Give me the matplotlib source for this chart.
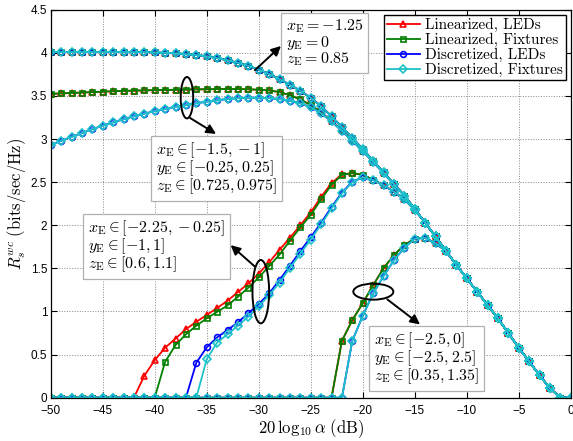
import numpy as np
import matplotlib
matplotlib.use("Agg")
import matplotlib.pyplot as plt
from matplotlib.patches import Ellipse

plt.rcParams["mathtext.fontset"] = "cm"
plt.rcParams["font.family"] = ["Liberation Sans", "DejaVu Sans"]

# attenuation grid (dB)
alpha_db = list(range(-50, 1))

# shared high-alpha tail, 20log10(alpha) = -12 .. 0
tail = [1.705, 1.54, 1.385, 1.23, 1.075, 0.92, 0.75, 0.58, 0.42, 0.26, 0.11, 0.0, 0.0]

# scenario 1: xE=-1.25, yE=0, zE=0.85  (-50 .. -13)
s1_all = [4.01] * 10 + [4.005, 4.0, 3.995, 3.985, 3.975, 3.96, 3.94, 3.915, 3.885, 3.85,
                        3.805, 3.755, 3.695, 3.63, 3.56, 3.48, 3.38, 3.265, 3.14, 3.015,
                        2.885, 2.75, 2.615, 2.48, 2.345, 2.19, 2.03, 1.87]

# scenario 2: xE in [-1.5,-1], yE in [-0.25,0.25], zE in [0.725,0.975]
s2_lin = [3.525, 3.53, 3.535, 3.54, 3.545, 3.55, 3.555, 3.56, 3.562, 3.565,
          3.568, 3.57, 3.572, 3.575, 3.577, 3.578, 3.58, 3.58, 3.58, 3.578,
          3.572, 3.565, 3.545, 3.51, 3.46, 3.395, 3.31, 3.21, 3.10, 2.985,
          2.865, 2.74, 2.61, 2.48, 2.345, 2.19, 2.03, 1.87]
s2_disc = [2.93, 2.98, 3.025, 3.07, 3.115, 3.155, 3.195, 3.23, 3.265, 3.295,
           3.325, 3.35, 3.375, 3.395, 3.415, 3.435, 3.45, 3.465, 3.475, 3.48,
           3.48, 3.475, 3.465, 3.445, 3.415, 3.37, 3.30, 3.205, 3.095, 2.98,
           2.86, 2.735, 2.605, 2.475, 2.345, 2.19, 2.03, 1.87]

# scenario 3: xE in [-2.25,-0.25], yE in [-1,1], zE in [0.6,1.1]
s3_lin_led = [0.0] * 9 + [0.255, 0.435, 0.58, 0.685, 0.795, 0.88, 0.96, 1.04, 1.125, 1.225,
                          1.325, 1.44, 1.57, 1.715, 1.855, 2.0, 2.15, 2.33, 2.49, 2.59,
                          2.605, 2.585, 2.53, 2.465, 2.39, 2.30, 2.18, 2.03, 1.87]
s3_lin_fix = [0.0] * 11 + [0.415, 0.61, 0.735, 0.835, 0.92, 0.995, 1.07, 1.17, 1.275, 1.395,
                           1.525, 1.66, 1.82, 1.975, 2.12, 2.30, 2.47, 2.585, 2.605, 2.585,
                           2.53, 2.465, 2.39, 2.30, 2.18, 2.03, 1.87]
s3_disc_led = [0.0] * 14 + [0.405, 0.585, 0.70, 0.785, 0.875, 0.98, 1.085, 1.21, 1.365, 1.53,
                            1.70, 1.86, 2.03, 2.21, 2.38, 2.505, 2.555, 2.525, 2.465, 2.39,
                            2.30, 2.18, 2.03, 1.87]
s3_disc_fix = [0.0] * 15 + [0.445, 0.64, 0.735, 0.835, 0.94, 1.06, 1.19, 1.335, 1.505, 1.67,
                            1.835, 2.01, 2.195, 2.37, 2.50, 2.555, 2.525, 2.465, 2.39, 2.30,
                            2.18, 2.03, 1.87]

# scenario 4: xE in [-2.5,0], yE in [-2.5,2.5], zE in [0.35,1.35]
s4_lin = [0.0] * 28 + [0.66, 0.90, 1.095, 1.305, 1.50, 1.655, 1.77, 1.845, 1.855, 1.79]
s4_disc = [0.0] * 29 + [0.66, 0.95, 1.21, 1.41, 1.595, 1.74, 1.845, 1.855, 1.79]

series = {
    "Linearized, LEDs": [s1_all, s2_lin, s3_lin_led, s4_lin],
    "Linearized, Fixtures": [s1_all, s2_lin, s3_lin_fix, s4_lin],
    "Discretized, LEDs": [s1_all, s2_disc, s3_disc_led, s4_disc],
    "Discretized, Fixtures": [s1_all, s2_disc, s3_disc_fix, s4_disc],
}
styles = {
    "Linearized, LEDs": dict(color="#ff0000", marker="^", ms=4.3),
    "Linearized, Fixtures": dict(color="#008000", marker="s", ms=3.6),
    "Discretized, LEDs": dict(color="#0000ff", marker="o", ms=4.2),
    "Discretized, Fixtures": dict(color="#1ec3c8", marker="D", ms=3.9),
}

fig = plt.figure(figsize=(5.73, 4.41), dpi=100)
ax = fig.add_axes([0.0885, 0.0982, 0.9075, 0.8796])

handles = []
for name, curves in series.items():
    st = styles[name]
    for k, head in enumerate(curves):
        y = np.array(head + tail)
        h, = ax.plot(alpha_db, y, color=st["color"], lw=1.3, marker=st["marker"],
                     ms=st["ms"], mfc="none", mec=st["color"], mew=1.2,
                     label=name if k == 0 else None)
        if k == 0:
            handles.append(h)

ax.set_xlim(-50, 0)
ax.set_ylim(0, 4.5)
ax.set_xticks(np.arange(-50, 1, 5))
ax.set_yticks(np.arange(0, 4.51, 0.5))
ax.set_yticklabels(["0", "0.5", "1", "1.5", "2", "2.5", "3", "3.5", "4", "4.5"])
ax.tick_params(direction="in", top=True, right=True, length=4, labelsize=8.5, pad=2.5)
ax.tick_params(axis="x", pad=5.5)
ax.grid(True, linestyle=":", color="#888888", linewidth=0.7)
for sp in ax.spines.values():
    sp.set_linewidth(0.9)

ax.set_xlabel(r"$20\,\log_{10}\alpha\ \mathrm{(dB)}$", fontsize=12, labelpad=0)
ax.set_ylabel(r"$R_s^{wc}\ \mathrm{(bits/sec/Hz)}$", fontsize=12, labelpad=2)

leg = ax.legend(handles=handles, loc="upper right", bbox_to_anchor=(0.9904, 0.9866),
                borderaxespad=0, prop={"family": "cmr10", "size": 11}, fancybox=False,
                framealpha=1, edgecolor="black", handlelength=2.2, handletextpad=0.3,
                handleheight=0.6, borderpad=0.2, labelspacing=0.05)
leg.get_frame().set_linewidth(1.0)

box = dict(boxstyle="square,pad=0.3", fc="white", ec="#b0b0b0", lw=0.9)
txt = dict(fontsize=11.5, va="top", ha="left", bbox=box, linespacing=0.88)
ax.text(-27.4, 4.41, "$x_{\\rm E} = -1.25$\n$y_{\\rm E} = 0$\n$z_{\\rm E} = 0.85$", **txt)
ax.text(-39.9, 2.98, "$x_{\\rm E} \\in [-1.5, -1]$\n$y_{\\rm E} \\in [-0.25, 0.25]$\n$z_{\\rm E} \\in [0.725, 0.975]$", **txt)
ax.text(-46.45, 2.075, "$x_{\\rm E} \\in [-2.25, -0.25]$\n$y_{\\rm E} \\in [-1, 1]$\n$z_{\\rm E} \\in [0.6, 1.1]$", **txt)
ax.text(-18.9, 0.78, "$x_{\\rm E} \\in [-2.5, 0]$\n$y_{\\rm E} \\in [-2.5, 2.5]$\n$z_{\\rm E} \\in [0.35, 1.35]$", **txt)

for cx, cy, w, h in [(-36.9, 3.48, 1.2, 0.48), (-29.8, 1.23, 1.6, 0.735), (-18.98, 1.23, 3.85, 0.186)]:
    ax.add_patch(Ellipse((cx, cy), w, h, fill=False, ec="black", lw=1.4, zorder=5))

arrow = dict(arrowstyle="-|>", color="black", lw=1.4, mutation_scale=14, shrinkA=0, shrinkB=0)
ax.annotate("", xy=(-27.86, 4.08), xytext=(-30.36, 3.80), arrowprops=arrow, zorder=6)
ax.annotate("", xy=(-34.1, 3.06), xytext=(-36.6, 3.245), arrowprops=arrow, zorder=6)
ax.annotate("", xy=(-32.7, 1.77), xytext=(-30.36, 1.52), arrowprops=arrow, zorder=6)
ax.annotate("", xy=(-14.49, 0.85), xytext=(-17.63, 1.14), arrowprops=arrow, zorder=6)

fig.savefig("out.png", dpi=100)
